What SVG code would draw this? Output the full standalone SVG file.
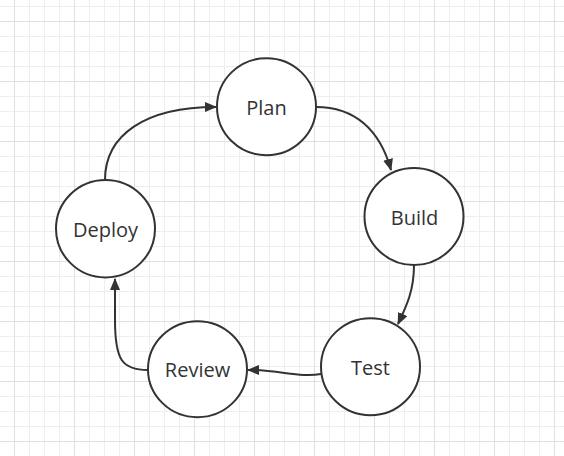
<svg xmlns="http://www.w3.org/2000/svg" width="564" height="456" viewBox="0 0 564 456">
<defs>
<pattern id="grid" x="14" y="21" width="60" height="60" patternUnits="userSpaceOnUse">
<path d="M15.5 0V60M30.5 0V60M45.5 0V60M0 15.5H60M0 30.5H60M0 45.5H60" stroke="#eeeeee" stroke-width="1" fill="none"/>
<path d="M0.5 0V60M0 0.5H60" stroke="#e0e0e0" stroke-width="1" fill="none"/>
</pattern>
<marker id="arr" viewBox="0 0 12 10" refX="11" refY="5" markerWidth="12" markerHeight="10" markerUnits="userSpaceOnUse" orient="auto">
<path d="M0 0L12 5L0 10Z" fill="#333333"/>
</marker>
<style>
.node ellipse{fill:#ffffff;stroke:#333333;stroke-width:2}
.node text{font-family:"Open Sans","Noto Sans",sans-serif;font-size:20px;fill:#333333;text-anchor:middle}
.edges path{fill:none;stroke:#333333;stroke-width:2;marker-end:url(#arr)}
</style>
</defs>
<rect width="564" height="456" fill="#ffffff"/>
<rect width="564" height="456" fill="url(#grid)"/>
<g class="edges" id="connectors">
<path d="M105 180C105 135 145 107 216 107"/>
<path d="M316 107C355 107 380 130 391 170"/>
<path d="M414 265C414 290 407 305 398 324"/>
<path d="M321 374C300 378 280 370 248 370"/>
<path d="M148 370C122 370 115 360 115 320L115 279"/>
</g>
<g class="node" id="plan"><ellipse cx="266.5" cy="106.7" rx="49.5" ry="48.5"/><text x="266.5" y="114.5">Plan</text></g>
<g class="node" id="build"><ellipse cx="414" cy="216.5" rx="49.5" ry="48.5"/><text x="414.5" y="224.5">Build</text></g>
<g class="node" id="test"><ellipse cx="370.5" cy="366.7" rx="49.5" ry="48.5"/><text x="370.5" y="374.5">Test</text></g>
<g class="node" id="review"><ellipse cx="197.5" cy="369.2" rx="49.5" ry="48"/><text x="197.5" y="377">Review</text></g>
<g class="node" id="deploy"><ellipse cx="105.5" cy="228.7" rx="49.5" ry="48.7"/><text x="105.5" y="236.5">Deploy</text></g>
</svg>
